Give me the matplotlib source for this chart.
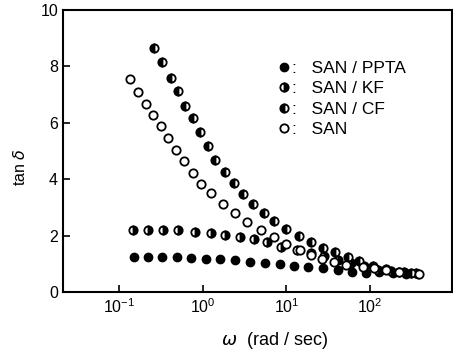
import matplotlib.pyplot as plt

plt.rcParams['font.family'] = ['Liberation Sans', 'DejaVu Sans']

# read data (omega in rad/sec, tan delta)
w_ppta = [0.15, 0.22, 0.33, 0.49, 0.73, 1.09, 1.61, 2.42, 3.65, 5.55, 8.3,
          12.2, 18.1, 27.3, 41.1, 61, 90, 129, 186, 269, 372]
tan_ppta = [1.24, 1.24, 1.24, 1.23, 1.22, 1.19, 1.17, 1.13, 1.08, 1.04, 0.99,
            0.93, 0.9, 0.86, 0.78, 0.72, 0.69, 0.7, 0.68, 0.66, 0.65]

w_kf = [0.146, 0.22, 0.331, 0.509, 0.805, 1.24, 1.87, 2.82, 4.1, 5.86, 8.69,
        13.4, 19.8, 28.5, 41.1, 59.3, 85.5, 123, 178, 256, 353]
tan_kf = [2.2, 2.2, 2.22, 2.2, 2.14, 2.09, 2.02, 1.94, 1.88, 1.76, 1.61,
          1.49, 1.38, 1.27, 1.15, 1.03, 0.92, 0.8, 0.74, 0.7, 0.67]

w_cf = [0.259, 0.329, 0.413, 0.509, 0.612, 0.755, 0.923, 1.15, 1.42, 1.87,
        2.35, 3.03, 3.99, 5.4, 7.2, 9.96, 14.1, 19.8, 27.2, 38.5, 54, 74.5,
        107, 155, 223, 308]
tan_cf = [8.66, 8.17, 7.6, 7.14, 6.61, 6.16, 5.67, 5.19, 4.69, 4.27, 3.88,
          3.49, 3.12, 2.79, 2.52, 2.23, 1.99, 1.76, 1.56, 1.41, 1.25, 1.1,
          0.93, 0.83, 0.73, 0.69]

w_san = [0.135, 0.17, 0.208, 0.256, 0.314, 0.387, 0.478, 0.596, 0.755, 0.966,
         1.26, 1.77, 2.46, 3.39, 4.93, 7.05, 9.95, 14.4, 19.8, 26.7, 37.5,
         51.6, 81.7, 112, 155, 223, 387]
tan_san = [7.55, 7.1, 6.67, 6.28, 5.9, 5.48, 5.04, 4.66, 4.24, 3.83, 3.5,
           3.12, 2.81, 2.49, 2.2, 1.96, 1.7, 1.49, 1.31, 1.19, 1.08, 0.96,
           0.9, 0.85, 0.8, 0.72, 0.64]

labels = [':   SAN / PPTA', ':   SAN / KF', ':   SAN / CF', ':   SAN']

fig = plt.figure(figsize=(4.53, 3.55), dpi=100)
ax = fig.add_axes([0.139, 0.177, 0.859, 0.795])

ms = 6
ax.plot(w_ppta, tan_ppta, 'o', color='black', ms=ms, label=labels[0])
ax.plot(w_kf, tan_kf, 'o', ms=ms, fillstyle='right', markerfacecolor='black',
        markerfacecoloralt='white', markeredgecolor='black', mew=1.3, label=labels[1])
ax.plot(w_cf, tan_cf, 'o', ms=ms, fillstyle='left', markerfacecolor='black',
        markerfacecoloralt='white', markeredgecolor='black', mew=1.3, label=labels[2])
ax.plot(w_san, tan_san, 'o', ms=ms, markerfacecolor='white',
        markeredgecolor='black', mew=1.3, label=labels[3])

ax.set_xscale('log')
ax.set_xlim(10 ** -1.67, 10 ** 2.98)
ax.set_ylim(0, 10)
ax.set_yticks([0, 2, 4, 6, 8, 10])
ax.set_xticks([0.1, 1, 10, 100])
ax.minorticks_off()
ax.tick_params(direction='in', length=5, width=1.2, labelsize=11.5, colors='black')
for s in ax.spines.values():
    s.set_linewidth(1.5)

fig.text(0.045, 0.53, r'tan $\delta$', rotation=90, ha='center', va='center', fontsize=11.5)
fig.text(0.607, 0.04, r'$\omega$  (rad / sec)', ha='center', va='center', fontsize=13)

ax.legend(loc='upper left', bbox_to_anchor=(0.535, 0.85), frameon=False,
          fontsize=12.5, handlelength=0.5, handletextpad=0.2, labelspacing=0.3,
          borderpad=0)

fig.savefig('out.png', dpi=100)
